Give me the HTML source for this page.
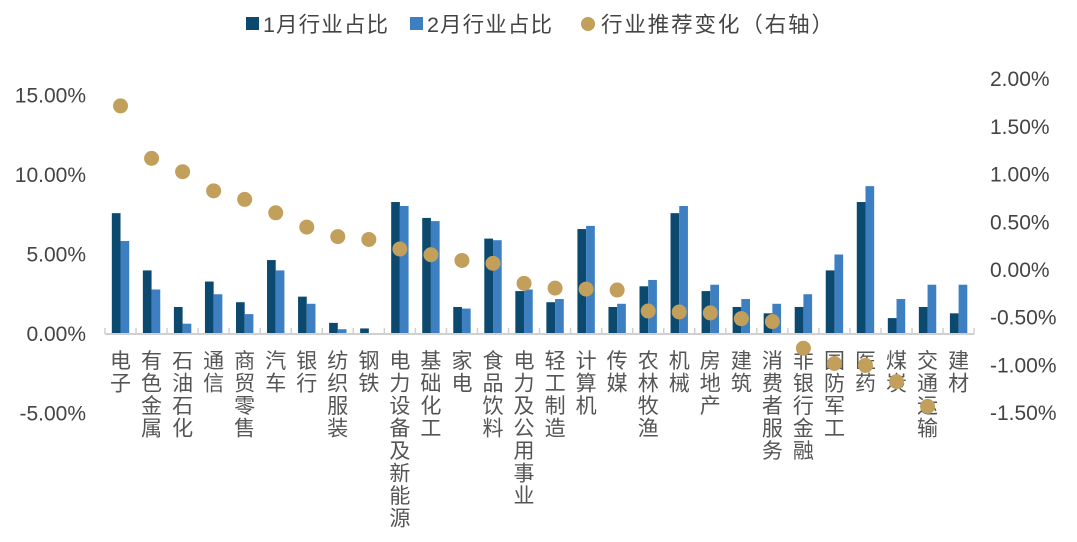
<!DOCTYPE html>
<html><head><meta charset="utf-8"><style>
body{margin:0;background:#fff}
svg text{font-family:"Liberation Sans","Noto Sans CJK SC",sans-serif}
</style></head><body>
<svg id="chart" width="1077" height="537" xmlns="http://www.w3.org/2000/svg">
<g id="legend">
<rect x="246" y="17" width="13" height="13" fill="#0b4a6e"/>
<text x="263" y="32" font-size="21.5" fill="#444" textLength="125">1月行业占比</text>
<rect x="410" y="17" width="13" height="13" fill="#3d7fc1"/>
<text x="427" y="32" font-size="21.5" fill="#444" textLength="125">2月行业占比</text>
<circle cx="588" cy="24" r="7" fill="#c2a05c"/>
<text x="601" y="32" font-size="21.5" fill="#444" textLength="232">行业推荐变化（右轴）</text>
</g>
<g id="plot"></g>
</svg>
<script>
const categories=["电子","有色金属","石油石化","通信","商贸零售","汽车","银行","纺织服装","钢铁","电力设备及新能源","基础化工","家电","食品饮料","电力及公用事业","轻工制造","计算机","传媒","农林牧渔","机械","房地产","建筑","消费者服务","非银行金融","国防军工","医药","煤炭","交通运输","建材"];
const janShare=[7.6,4.0,1.7,3.3,2.0,4.65,2.35,0.7,0.35,8.3,7.3,1.7,6.0,2.7,2.0,6.6,1.7,3.0,7.6,2.7,1.7,1.3,1.7,4.0,8.3,1.0,1.7,1.3];
const febShare=[5.85,2.8,0.65,2.5,1.25,4.0,1.9,0.3,0.05,8.05,7.1,1.6,5.9,2.8,2.2,6.8,1.9,3.4,8.05,3.1,2.2,1.9,2.5,5.0,9.3,2.2,3.1,3.1];
const recChange=[1.72,1.17,1.03,0.83,0.74,0.6,0.45,0.35,0.32,0.22,0.16,0.1,0.07,-0.14,-0.19,-0.2,-0.21,-0.43,-0.44,-0.45,-0.51,-0.54,-0.82,-0.98,-1.0,-1.17,-1.43,null];
const leftTicks=[15,10,5,0,-5];
const leftTickLabels=["15.00%","10.00%","5.00%","0.00%","-5.00%"];
const rightTicks=[2,1.5,1,0.5,0,-0.5,-1,-1.5];
const rightTickLabels=["2.00%","1.50%","1.00%","0.50%","0.00%","-0.50%","-1.00%","-1.50%"];

const NS="http://www.w3.org/2000/svg";
const g=document.getElementById('plot');
const yL=v=>334-v*15.9;
const yR=v=>270-v*95.4;
const x0=105,step=31.04;
const xC=i=>x0+step*(i+0.5);
function mk(t,a){const e=document.createElementNS(NS,t);for(const k in a)e.setAttribute(k,a[k]);g.appendChild(e);return e;}

leftTicks.forEach((v,i)=>{const t=mk('text',{x:86,y:yL(v)+7,'font-size':21,fill:'#444','text-anchor':'end'});t.textContent=leftTickLabels[i];

});
rightTicks.forEach((v,i)=>{const t=mk('text',{x:990,y:yR(v)+7,'font-size':21,fill:'#444'});t.textContent=rightTickLabels[i];

});

categories.forEach((c,i)=>{
 const cx=xC(i);
 const b1=mk('rect',{x:cx-8.7,y:Math.min(yL(janShare[i]),yL(0)),width:8.7,height:Math.abs(yL(0)-yL(janShare[i])),fill:'#0b4a6e'});
 
 
 const b2=mk('rect',{x:cx,y:Math.min(yL(febShare[i]),yL(0)),width:8.7,height:Math.abs(yL(0)-yL(febShare[i])),fill:'#3d7fc1'});
 
 
 const t=mk('text',{x:cx,y:368,'font-size':21,fill:'#555','text-anchor':'middle'});
 
 
 [...c].forEach((ch,k)=>{const s=document.createElementNS(NS,'tspan');s.setAttribute('x',cx);s.setAttribute('y',368+k*22.5);s.textContent=ch;t.appendChild(s);});
});
const ax=mk('line',{x1:x0,x2:x0+step*28,y1:yL(0),y2:yL(0),stroke:'#d0d0d0','stroke-width':2});


for(let k=0;k<=28;k++){const tk=mk('line',{x1:x0+step*k,x2:x0+step*k,y1:yL(0),y2:yL(0)-6,stroke:'#d0d0d0','stroke-width':1.5});

}
categories.forEach((c,i)=>{
 if(recChange[i]===null)return;
 const d=mk('circle',{cx:xC(i),cy:yR(recChange[i]),r:7.5,fill:'#c2a05c'});
 
 
});
</script>
</body></html>
